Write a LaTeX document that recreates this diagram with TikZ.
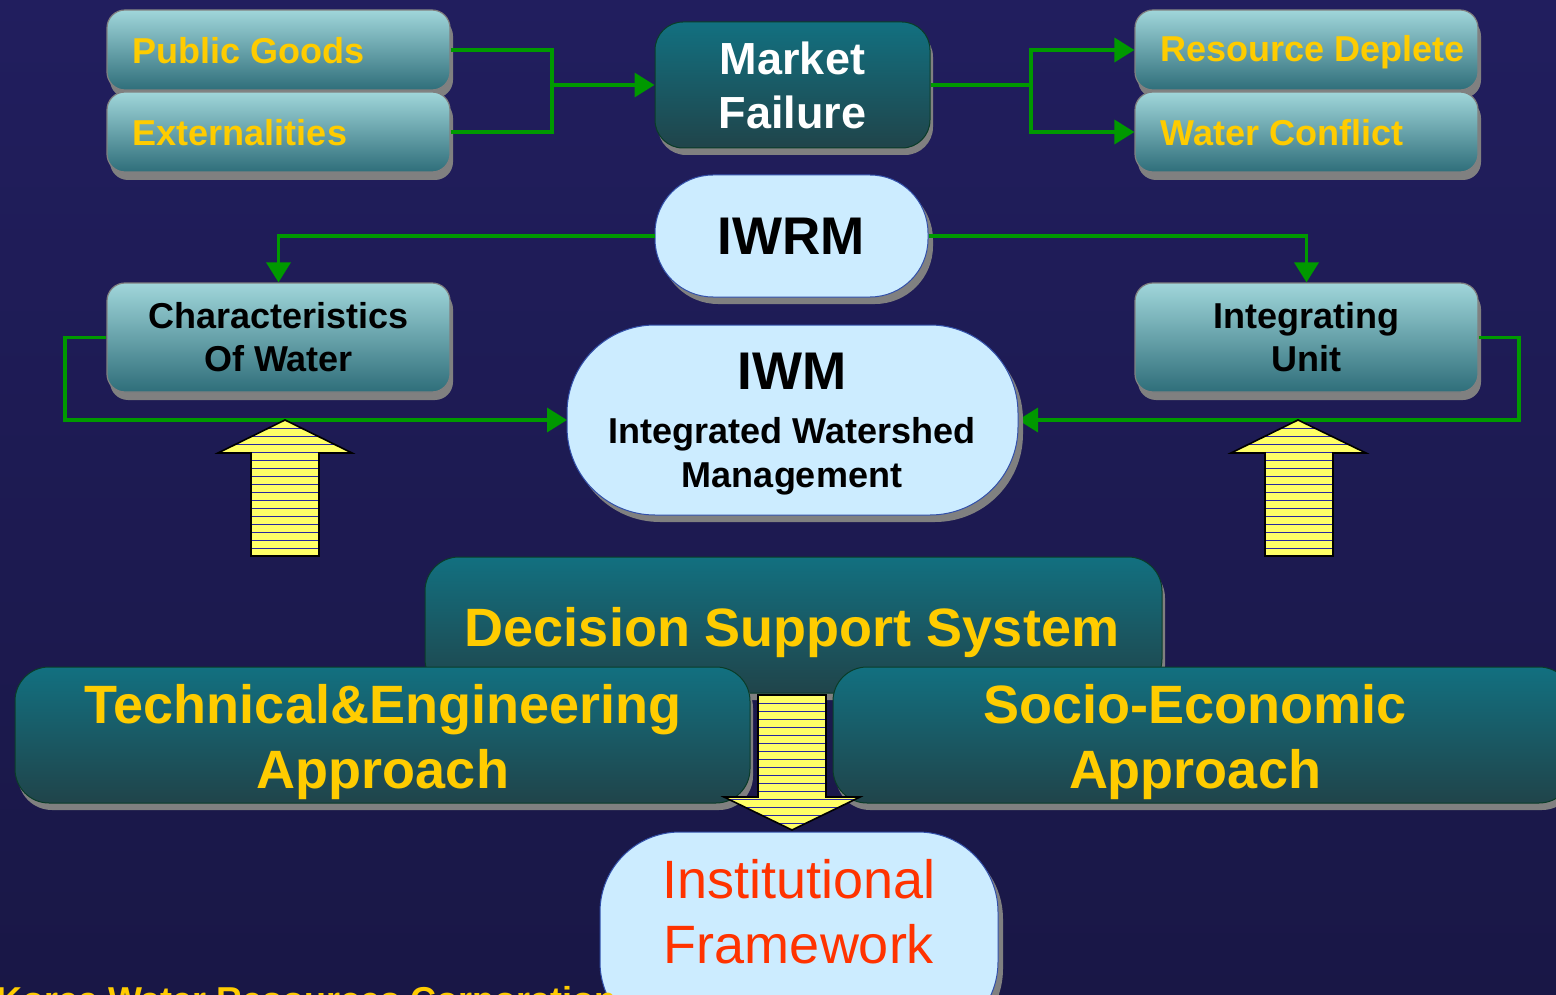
\documentclass[tikz,border=0pt]{standalone}
\usepackage{fontspec}
\setmainfont{Liberation Sans}
\usetikzlibrary{arrows.meta,shadows,calc}
\definecolor{bgtop}{RGB}{33,30,94}
\definecolor{bgmid}{RGB}{49,49,148}
\definecolor{bgbot}{RGB}{25,23,70}
\definecolor{ltop}{RGB}{160,214,218}
\definecolor{lbot}{RGB}{47,110,122}
\definecolor{dtop}{RGB}{18,112,128}
\definecolor{dbot}{RGB}{32,68,74}
\definecolor{pillfill}{RGB}{204,236,255}
\definecolor{pillline}{RGB}{50,80,170}
\definecolor{ytext}{RGB}{255,204,0}
\definecolor{rtext}{RGB}{255,51,0}
\definecolor{conngreen}{RGB}{0,153,0}
\definecolor{ayellow}{RGB}{255,255,102}
\definecolor{stripeblue}{RGB}{40,40,160}
\definecolor{shadowgray}{RGB}{128,128,128}
\newcommand\stripedarrow[3]{%
  \fill[ayellow] #1;
  \begin{scope}
    \clip #1;
    \foreach \yy in {#2} \draw[stripeblue,line width=1pt] (0,\yy) -- (1556,\yy);
  \end{scope}
  \draw[black,line width=1.6pt,line join=miter] #1;}
\begin{document}
\begin{tikzpicture}[x=1pt,y=-1pt,
  lightbox/.style={draw=shadowgray,line width=1.2pt,rounded corners=18pt,
    top color=ltop,bottom color=lbot,minimum width=343pt,minimum height=80pt,
    drop shadow={shadow xshift=3pt,shadow yshift=-8pt,fill=shadowgray,opacity=1}},
  darkbox/.style={draw={rgb,255:red,10;green,60;blue,40},line width=1pt,rounded corners=34pt,
    top color=dtop,bottom color=dbot,
    drop shadow={shadow xshift=3pt,shadow yshift=-7pt,fill=shadowgray,opacity=1}},
  pill/.style={draw=pillline,line width=1pt,fill=pillfill,
    drop shadow={shadow xshift=5pt,shadow yshift=-7pt,fill=shadowgray,opacity=1}},
  ytxt/.style={text=ytext,font=\bfseries\fontsize{36}{43}\selectfont},
  btxt/.style={text=black,font=\bfseries\fontsize{36}{43}\selectfont,align=center},
  bigy/.style={text=ytext,font=\bfseries\fontsize{54}{65}\selectfont,align=center},
  conn/.style={draw=conngreen,line width=3.5pt},
  tip/.style={-{Triangle[length=20pt,width=24pt]}},
]
\useasboundingbox (0,0) rectangle (1556,995);
\clip (0,0) rectangle (1556,995);
\shade[top color=bgtop,middle color=bgmid,bottom color=bgbot] (0,0) rectangle (1556,995);

% top row
\node[lightbox] (pg) at (278.5,50) {};
\node[ytxt,anchor=west] (pgt) at ([xshift=23pt,yshift=-1pt]pg.west) {Public Goods};
\node[lightbox] (ex) at (278.5,132) {};
\node[ytxt,anchor=west] (ext) at ([xshift=23pt,yshift=-1pt]ex.west) {Externalities};
\node[darkbox,rounded corners=28pt,minimum width=275pt,minimum height=126pt,
  text=white,font=\bfseries\fontsize{45}{54}\selectfont,align=center] (mf) at (792.5,85) {Market\\Failure};
\node[lightbox] (rd) at (1306.5,50) {};
\node[ytxt,anchor=west] (rdt) at ([xshift=23pt,yshift=-2pt]rd.west) {Resource Deplete};
\node[lightbox] (wc) at (1306.5,132) {};
\node[ytxt,anchor=west] (wct) at ([xshift=23pt,yshift=-1pt]wc.west) {Water Conflict};

% connectors top
\coordinate (j1) at (552,85);
\coordinate (j2) at (1031,85);
\draw[conn] (pg.east) -| (j1) |- (ex.east);
\draw[conn,tip] (j1) -- (mf.west);
\draw[conn] (mf.east) -- (j2);
\draw[conn,tip] (j2) |- (rd.west);
\draw[conn,tip] (j2) |- (wc.west);

% IWRM
\node[pill,rounded corners=58pt,minimum width=273pt,minimum height=122pt,
  font=\bfseries\fontsize{53}{60}\selectfont] (iwrm) at (791.5,236) {IWRM};

% middle boxes
\node[lightbox,minimum height=109pt,btxt] (cw) at (278.5,337.5) {Characteristics\\Of Water};
\node[lightbox,minimum height=109pt,btxt] (iu) at (1306.5,337.5) {Integrating\\Unit};

\coordinate (l1) at (65,420);
\coordinate (r1) at (1519,420);
\draw[conn,tip] (iwrm.west) -| (cw.north);
\draw[conn,tip] (iwrm.east) -| (iu.north);
\draw[conn,tip] (cw.west) -| (l1) -- (567,420);
\draw[conn,tip] (iu.east) -| (r1) -- (1018,420);

% IWM
\node[pill,rounded corners=88pt,minimum width=451pt,minimum height=190pt] (iwm) at (792.5,420) {};
\node[align=center,font=\bfseries\fontsize{36}{44}\selectfont] (iwmt) at (792,424)
  {{\fontsize{53}{58}\selectfont IWM}\\[10pt]Integrated Watershed\\Management};

% up arrows
\stripedarrow{(285,420) -- (352,453) -- (319,453) -- (319,556) -- (251,556) -- (251,453) -- (218,453) -- cycle}{428,436,...,556}{}
\stripedarrow{(1298,420) -- (1366,453) -- (1333,453) -- (1333,556) -- (1265,556) -- (1265,453) -- (1231,453) -- cycle}{428,436,...,556}{}

% decision support and approaches
\node[darkbox,minimum width=737pt,minimum height=136pt] (dss) at (793.5,625) {};
\node[bigy] (dsst) at (792,633) {Decision Support System};
\node[darkbox,minimum width=735pt,minimum height=136pt] (tea) at (382.5,735) {};
\node[bigy] (teat) at (383,742) {Technical\&Engineering\\Approach};
\node[darkbox,minimum width=740pt,minimum height=136pt] (sea) at (1203,735) {};
\node[bigy] (seat) at (1195,742) {Socio-Economic\\Approach};

% down arrow
\stripedarrow{(792,830) -- (860,797) -- (826,797) -- (826,695) -- (758,695) -- (758,797) -- (724,797) -- cycle}{703,711,...,830}{}

% institutional framework
\node[pill,rounded corners=80pt,minimum width=398pt,minimum height=210pt] (inst) at (799,937) {};
\node[text=rtext,font=\fontsize{54}{65}\selectfont,align=center] (instt) at (799,912) {Institutional\\Framework};

% footer
\node[text=ytext,font=\bfseries\fontsize{36}{43}\selectfont,anchor=base west,inner sep=0pt] (kw) at (-4,1012) {Korea Water Resources Corporation};
\end{tikzpicture}
\end{document}
